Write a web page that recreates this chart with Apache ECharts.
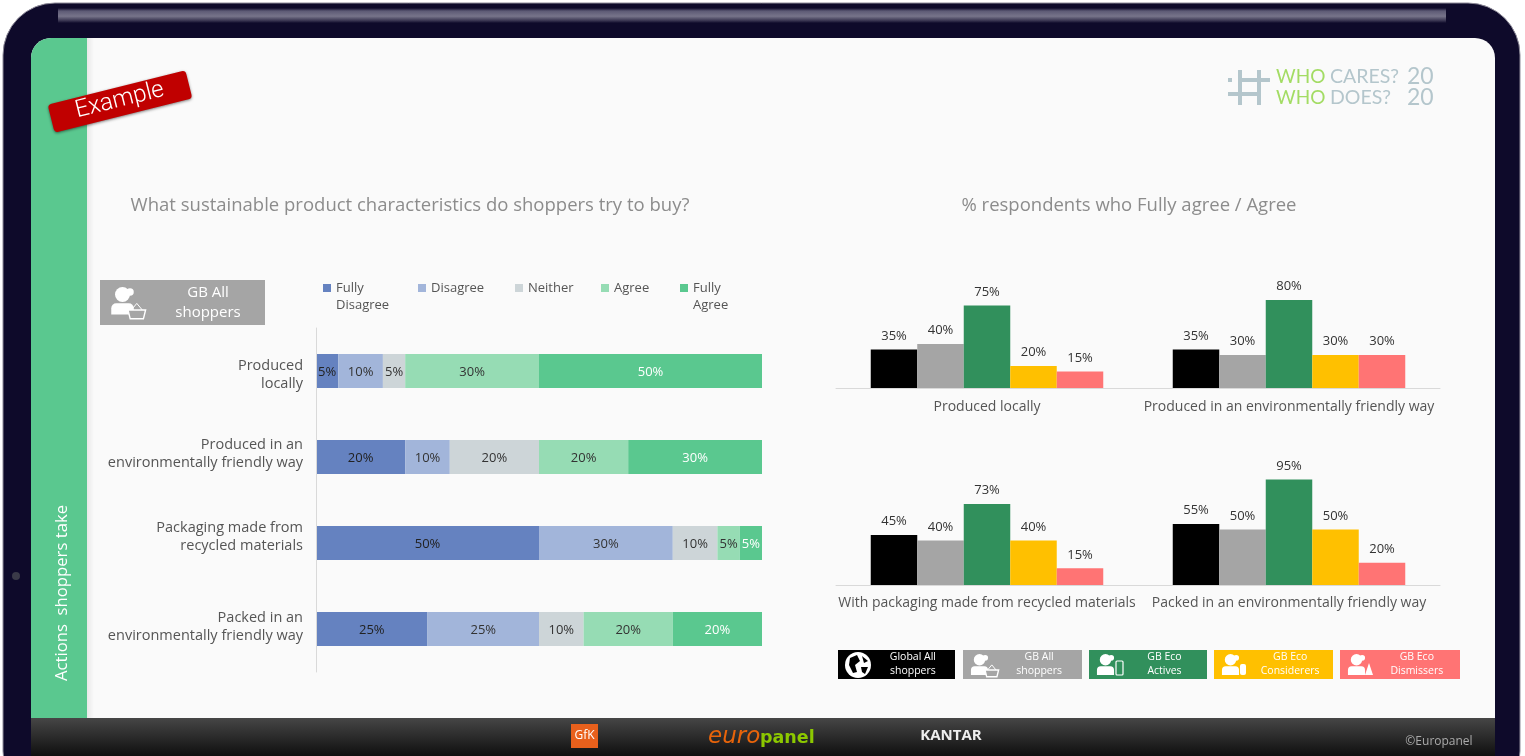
<!DOCTYPE html>
<html><head><meta charset="utf-8">
<style>html,body{margin:0;padding:0;background:#fff}#c{width:1525px;height:756px}</style>
<script src="https://cdn.jsdelivr.net/npm/echarts@6/dist/echarts.min.js"></script>
</head><body><div id="c"></div>
<script>
var FONT = '"Open Sans", sans-serif';
var stackCategories = ['Produced\nlocally','Produced in an\nenvironmentally friendly way','Packaging made from\nrecycled materials','Packed in an\nenvironmentally friendly way'];
var fullyDisagree = [5,20,50,25];
var disagree = [10,10,30,25];
var neither = [5,20,10,10];
var agree = [30,20,5,20];
var fullyAgree = [50,30,5,20];
var stackNames = ['Fully Disagree','Disagree','Neither','Agree','Fully Agree'];
var stackColors = ['#6582c0','#a2b5da','#cdd5d8','#96dcb4','#5ac88f'];
var stackLabelColors = ['#222','#333','#333','#333','#fff'];
var legendLefts = [323,418,515,601,680];

var topCategories = ['Produced locally','Produced in an environmentally friendly way'];
var bottomCategories = ['With packaging made from recycled materials','Packed in an environmentally friendly way'];
var groupNames = ['Global All shoppers','GB All shoppers','GB Eco Actives','GB Eco Considerers','GB Eco Dismissers'];
var groupColors = ['#000000','#a5a5a5','#31905c','#ffc000','#ff7474'];
var topValues = [[35,35],[40,30],[75,80],[20,30],[15,30]];
var bottomValues = [[45,55],[40,50],[73,95],[40,50],[15,20]];

var stackData = [fullyDisagree,disagree,neither,agree,fullyAgree];
var series = [];
stackData.forEach(function(d,i){
  series.push({name:stackNames[i],type:'bar',stack:'s',xAxisIndex:0,yAxisIndex:0,data:d,barWidth:34,
    itemStyle:{color:stackColors[i]},
    label:{show:true,position:'inside',offset:[0,1],formatter:'{c}%',fontFamily:FONT,fontSize:13,color:stackLabelColors[i]}});
});
[topValues,bottomValues].forEach(function(vals,g){
  vals.forEach(function(d,i){
    series.push({name:groupNames[i],type:'bar',xAxisIndex:g+1,yAxisIndex:g+1,data:d,barWidth:46.5,barGap:0,
      itemStyle:{color:groupColors[i]},
      label:{show:true,position:'top',distance:7,formatter:'{c}%',fontFamily:FONT,fontSize:13,color:'#333'}});
  });
});
function T(x,y,s,size,color,extra){
  var st = {text:s,fontFamily:FONT,fontSize:size,fill:color,textAlign:'center',textVerticalAlign:'middle'};
  for(var k in extra) st[k]=extra[k];
  return {type:'text',x:x,y:y,style:st,z:30};
}
function R(x,y,w,h,fill,r,z){return {type:'rect',shape:{x:x,y:y,width:w,height:h,r:r||0},style:{fill:fill},z:z||2};}
function person(x,y,s,c){
  return [
    {type:'circle',shape:{cx:x+10*s,cy:y+6*s,r:6*s},style:{fill:c},z:31},
    {type:'circle',shape:{cx:x+16*s,cy:y+4*s,r:3*s},style:{fill:c},z:31},
    {type:'rect',shape:{x:x+1*s,y:y+13*s,width:18*s,height:9*s,r:[4*s,4*s,0,0]},style:{fill:c},z:31}
  ];
}
function basket(x,y,s,c,bg){
  return [{type:'polygon',shape:{points:[[x,y],[x+16*s,y],[x+14*s,y+8*s],[x+2*s,y+8*s]]},style:{fill:bg,stroke:c,lineWidth:1.4},z:32},
          {type:'polyline',shape:{points:[[x+3*s,y],[x+8*s,y-6*s],[x+13*s,y]]},style:{fill:'none',stroke:c,lineWidth:1},z:32}];
}
function badge(x,w,i,l1,l2){
  var y=650,h=29,out=[R(x,y,w,h,groupColors[i],0,20)];
  out.push(T(x+w*0.64,y+7.5,l1,10.5,'#fff'));
  out.push(T(x+w*0.64,y+21.5,l2,10.5,'#fff'));
  if(i===0){
    out.push({type:'circle',shape:{cx:x+20,cy:y+15,r:13},style:{fill:'#fff'},z:31});
    out.push({type:'polygon',shape:{points:[[x+12,y+8],[x+19,y+5],[x+22,y+11],[x+17,y+15],[x+19,y+22],[x+15,y+23],[x+11,y+15]]},style:{fill:'#000'},z:32});
    out.push({type:'polygon',shape:{points:[[x+24,y+6],[x+30,y+11],[x+26,y+13]]},style:{fill:'#000'},z:32});
    out.push({type:'polygon',shape:{points:[[x+23,y+17],[x+30,y+17],[x+27,y+24],[x+24,y+22]]},style:{fill:'#000'},z:32});
  } else {
    person(x+7,y+4,0.95,'#fff').forEach(function(e){out.push(e);});
    if(i===1) basket(x+22,y+20,0.85,'#fff',groupColors[1]).forEach(function(e){out.push(e);});
    if(i===2) out.push({type:'rect',shape:{x:x+27,y:y+11,width:7,height:14,r:1},style:{fill:groupColors[2],stroke:'#fff',lineWidth:1.2},z:32});
    if(i===3) out.push({type:'rect',shape:{x:x+26,y:y+14,width:6,height:11,r:2},style:{fill:'#fff'},z:32});
    if(i===4) out.push({type:'polygon',shape:{points:[[x+29,y+13],[x+33,y+25],[x+25,y+25]]},style:{fill:'#fff'},z:32});
  }
  return out;
}
var LF='"Lato",sans-serif';
var g = [
  {type:'rect',shape:{x:3,y:3,width:1517,height:800,r:52},style:{fill:'#0e0a2a',stroke:'#8e8b99',lineWidth:1},z:0},
  {type:'rect',shape:{x:58,y:8,width:1388,height:15},style:{fill:new echarts.graphic.LinearGradient(0,0,0,1,[{offset:0,color:'#0e0a2a'},{offset:.2,color:'#5d5a75'},{offset:.55,color:'#77748a'},{offset:.85,color:'#37334f'},{offset:1,color:'#0e0a2a'}])},z:1},
  {type:'rect',shape:{x:31,y:38,width:1464,height:720,r:[20,20,0,0]},style:{fill:'#fafafa'},z:1},
  {type:'rect',shape:{x:87,y:38,width:7,height:680},style:{fill:new echarts.graphic.LinearGradient(0,0,1,0,[{offset:0,color:'rgba(0,0,0,0.07)'},{offset:1,color:'rgba(0,0,0,0)'}])},z:2},
  {type:'rect',shape:{x:31,y:38,width:56,height:680,r:[20,0,0,0]},style:{fill:'#5ac88f'},z:2},
  {type:'rect',shape:{x:31,y:718,width:1464,height:38},style:{fill:new echarts.graphic.LinearGradient(0,0,0,1,[{offset:0,color:'#464646'},{offset:1,color:'#0f0f0f'}])},z:2},
  {type:'circle',shape:{cx:16,cy:576,r:4},style:{fill:'#3a3a48'},z:2},
  {type:'group',x:120,y:101.5,rotation:14*Math.PI/180,z:25,children:[
    {type:'rect',shape:{x:-71,y:-14.5,width:142,height:29,r:4},style:{fill:'#c00000',shadowBlur:3,shadowColor:'rgba(0,0,0,.5)',shadowOffsetY:1},z:25},
    {type:'text',x:0,y:-1,style:{text:'Example',fontFamily:'Roboto',fontWeight:300,fontSize:24,fill:'#fff',textAlign:'center',textVerticalAlign:'middle'},z:26}
  ]},
  R(1238,78,32,4,'#b4c6cc',0,5),R(1228,92,33,4,'#b4c6cc',0,5),R(1238,70,4,35,'#b4c6cc',0,5),R(1257,70,4,35,'#b4c6cc',0,5),R(1228,78,4,4,'#b4c6cc',0,5),
  T(1276,77,'WHO',19,'#a3dc64',{textAlign:'left',fontFamily:LF}),
  T(1276,98,'WHO',19,'#a3dc64',{textAlign:'left',fontFamily:LF}),
  T(1330,77,'CARES?',19.5,'#b4c6cc',{textAlign:'left',fontFamily:LF}),
  T(1330,98,'DOES?',19.5,'#b4c6cc',{textAlign:'left',fontFamily:LF}),
  T(1407,77,'20',23,'#b4c6cc',{textAlign:'left',fontFamily:LF}),
  T(1407,98,'20',23,'#b4c6cc',{textAlign:'left',fontFamily:LF}),
  T(410,206,'What sustainable product characteristics do shoppers try to buy?',18.5,'#8c8c8c'),
  T(1129,206,'% respondents who Fully agree / Agree',18.5,'#8c8c8c'),
  {type:'text',x:62,y:593,rotation:Math.PI/2,style:{text:'Actions  shoppers take',fontFamily:FONT,fontSize:16.7,fill:'#fff',textAlign:'center',textVerticalAlign:'middle'},z:10},
  R(100,280,165,45,'#a5a5a5',0,20),
  T(208,293,'GB All',15,'#fff'),T(208,313,'shoppers',15,'#fff'),
  R(571,724,27,24,'#e8601c',0,20),
  T(584.5,736,'GfK',12,'#fff'),
  T(708,737,'euro',23,'#e8640a',{textAlign:'left',fontStyle:'italic',fontFamily:'"DejaVu Sans",sans-serif'}),
  T(760,738,'panel',17.5,'#8cc800',{textAlign:'left',fontWeight:'bold',fontFamily:'"DejaVu Sans",sans-serif'}),
  T(951,736,'KANTAR',15,'#eee',{fontWeight:'bold'}),
  T(1439,742,'©Europanel',12,'#aaa')
];
g = g.concat(person(110,287,1.25,'#fff'), basket(128,310,1.1,'#fff','#a5a5a5'));
g = g.concat(badge(838,117,0,'Global All','shoppers'),badge(963,119,1,'GB All','shoppers'),badge(1089,118,2,'GB Eco','Actives'),badge(1214,119,3,'GB Eco','Considerers'),badge(1340,120,4,'GB Eco','Dismissers'));

var catLabelTop = {fontFamily:FONT,fontSize:14,color:'#555',margin:12,interval:0};
var catLabelBottom = {fontFamily:FONT,fontSize:14,color:'#555',margin:11,interval:0};
var legends = stackNames.map(function(n,i){
  var two = n.indexOf(' ')>0;
  return {left:legendLefts[i],top:two?262.5:279.5,padding:0,itemWidth:8,itemHeight:8,selectedMode:false,icon:'rect',z:40,
    data:[n],
    formatter:function(s){return s.indexOf(' ')>0 ? '\u00a0\n'+s.replace(' ','\n') : s;},
    textStyle:{fontFamily:FONT,fontSize:13,color:'#555',lineHeight:17}};
});
function rowLabel(value,index){
  var lines = String(value).split('\n').map(function(s){return '{a|'+s+'}';});
  var sp = ['{s8|\u00a0}','{s6|\u00a0}','{s12|\u00a0}','{s4|\u00a0}'][index];
  if(index===0) lines.unshift(sp); else lines.push(sp);
  return lines.join('\n');
}
var option = {
  animation:false,
  backgroundColor:'#ffffff',
  textStyle:{fontFamily:FONT},
  grid:[
    {left:316,top:328,width:446,height:344},
    {left:836,top:278,width:604,height:110},
    {left:836,top:474,width:604,height:111}
  ],
  xAxis:[
    {gridIndex:0,type:'value',min:0,max:100,show:false},
    {gridIndex:1,type:'category',z:5,data:topCategories,axisTick:{show:false},axisLine:{lineStyle:{color:'#d9d9d9'}},axisLabel:catLabelTop},
    {gridIndex:2,type:'category',z:5,data:bottomCategories,axisTick:{show:false},axisLine:{lineStyle:{color:'#d9d9d9'}},axisLabel:catLabelBottom}
  ],
  yAxis:[
    {gridIndex:0,type:'category',z:5,offset:1,inverse:true,data:stackCategories,
      axisTick:{show:false},axisLine:{lineStyle:{color:'#d9d9d9'}},
      axisLabel:{margin:12,align:'right',interval:0,formatter:rowLabel,
        rich:{a:{fontFamily:FONT,fontSize:14.5,color:'#555',lineHeight:18,align:'right'},
              s4:{fontSize:1,lineHeight:4},s6:{fontSize:1,lineHeight:6},s8:{fontSize:1,lineHeight:8},s12:{fontSize:1,lineHeight:12}}}},
    {gridIndex:1,type:'value',min:0,max:100,show:false},
    {gridIndex:2,type:'value',min:0,max:100,show:false}
  ],
  legend:legends,
  graphic:{elements:g},
  series:series
};
echarts.init(document.getElementById('c'),null,{renderer:'canvas'}).setOption(option);
</script></body></html>
